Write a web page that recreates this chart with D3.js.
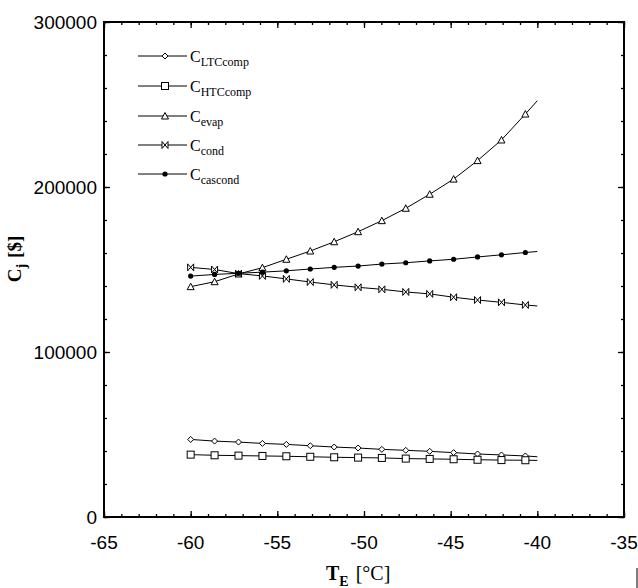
<!DOCTYPE html>
<html><head><meta charset="utf-8">
<script src="https://cdn.jsdelivr.net/npm/d3@7/dist/d3.min.js"></script>
<style>body{margin:0;background:#fff}svg{display:block}</style>
</head><body>
<svg id="c" width="638" height="588"></svg>
<script>
// marker temperatures (°C); last entry = line end without marker
const temps = [-60, -58.62, -57.24, -55.86, -54.48, -53.10, -51.72, -50.34, -48.97, -47.59, -46.21, -44.83, -43.45, -42.07, -40.69, -40];
const cLTCcomp = [47000, 46000, 45400, 44600, 44000, 43200, 42400, 41800, 41000, 40400, 39800, 39000, 38200, 37600, 37000, 36500];
const cHTCcomp = [37800, 37400, 37200, 37000, 36800, 36500, 36200, 36000, 35800, 35400, 35200, 35000, 34700, 34500, 34400, 34300];
const cEvap    = [139600, 142600, 147300, 151100, 156200, 161200, 166800, 172900, 179600, 187100, 195600, 204800, 216000, 228500, 244200, 252300];
const cCond    = [151300, 150000, 147500, 146100, 144300, 142400, 140700, 139200, 138000, 136400, 135200, 133200, 131500, 130100, 128500, 127900];
const cCascond = [146000, 147000, 147700, 148400, 149200, 150300, 151300, 152100, 153300, 154100, 155200, 156200, 157600, 158900, 160300, 160900];
const seriesNames = ["LTCcomp", "HTCcomp", "evap", "cond", "cascond"];
const seriesValues = [cLTCcomp, cHTCcomp, cEvap, cCond, cCascond];
const seriesMarkers = ["diamond", "square", "triangle", "bowtie", "dot"];
const xTicks = [-65, -60, -55, -50, -45, -40, -35];
const yTicks = [0, 100000, 200000, 300000];

const svg = d3.select("#c");
const L = 104, R = 624, T = 22, B = 517;
const x = d3.scaleLinear().domain([-65, -35]).range([L, R]);
const y = d3.scaleLinear().domain([0, 300000]).range([B, T]);

const sans = "'Liberation Sans', Arial, sans-serif";
const serif = "'Liberation Serif', 'Times New Roman', serif";

function tickAxis(gen, tr) {
  const g = svg.append("g").attr("transform", tr).call(gen);
  g.selectAll("text").remove();
  g.select(".domain").remove();
  g.selectAll("line").attr("stroke", "#000").attr("stroke-width", 1.3);
  return g;
}
const xMinor = d3.range(-65, -34, 1);
const yMinor = d3.range(0, 300001, 20000);
tickAxis(d3.axisBottom(x).tickValues(xMinor).tickSize(-3), `translate(0,${B})`);
tickAxis(d3.axisBottom(x).tickValues(xTicks).tickSize(-6), `translate(0,${B})`);
tickAxis(d3.axisTop(x).tickValues(xMinor).tickSize(-3), `translate(0,${T})`);
tickAxis(d3.axisTop(x).tickValues(xTicks).tickSize(-6), `translate(0,${T})`);
tickAxis(d3.axisLeft(y).tickValues(yMinor).tickSize(-3), `translate(${L},0)`);
tickAxis(d3.axisLeft(y).tickValues(yTicks).tickSize(-6), `translate(${L},0)`);
tickAxis(d3.axisRight(y).tickValues(yMinor).tickSize(-3), `translate(${R},0)`);
tickAxis(d3.axisRight(y).tickValues(yTicks).tickSize(-6), `translate(${R},0)`);

svg.append("rect").attr("x", L).attr("y", T).attr("width", R - L).attr("height", B - T)
  .attr("fill", "none").attr("stroke", "#000").attr("stroke-width", 2);

svg.append("g").selectAll("text").data(xTicks).join("text")
  .attr("x", d => x(d)).attr("y", 549).attr("text-anchor", "middle")
  .attr("font-family", sans).attr("font-size", 19).text(d => d);
svg.append("g").selectAll("text").data(yTicks).join("text")
  .attr("x", 97).attr("y", d => y(d) + 7).attr("text-anchor", "end")
  .attr("font-family", sans).attr("font-size", 19).text(d => d);

const xt = svg.append("text").attr("x", 326).attr("y", 580).attr("font-family", serif).attr("font-size", 20);
xt.append("tspan").attr("font-weight", "bold").text("T");
xt.append("tspan").attr("font-weight", "bold").attr("font-size", 14).attr("dy", 6).text("E");
xt.append("tspan").attr("dy", -6).attr("dx", 7).text("[°C]");

const yt = svg.append("text").attr("transform", "translate(21,259) rotate(-90)")
  .attr("text-anchor", "middle").attr("font-family", serif).attr("font-size", 19).attr("font-weight", "bold");
yt.append("tspan").text("C");
yt.append("tspan").attr("font-size", 14).attr("dy", 5).text("j");
yt.append("tspan").attr("dy", -5).attr("dx", 6).text("[$]");

function marker(g, type) {
  if (type === "diamond") g.append("path").attr("d", "M0,-3L3,0L0,3L-3,0Z").attr("fill", "#fff").attr("stroke", "#000");
  else if (type === "square") g.append("rect").attr("x", -3.5).attr("y", -3.5).attr("width", 7).attr("height", 7).attr("fill", "#fff").attr("stroke", "#000");
  else if (type === "triangle") g.append("path").attr("d", "M0,-3.5L3.5,3L-3.5,3Z").attr("fill", "#fff").attr("stroke", "#000");
  else if (type === "bowtie") g.append("path").attr("d", "M-3,-3.5L3,3.5L3,-3.5L-3,3.5Z").attr("fill", "#fff").attr("stroke", "#000");
  else g.append("circle").attr("r", 2.6).attr("fill", "#000");
}

const line = d3.line().x(d => x(d[0])).y(d => y(d[1]));
seriesValues.forEach((vals, i) => {
  const pts = temps.map((t, j) => [t, vals[j]]);
  svg.append("path").attr("d", line(pts)).attr("fill", "none").attr("stroke", "#000").attr("stroke-width", 1);
  pts.slice(0, pts.length - 1).forEach(p => {
    marker(svg.append("g").attr("transform", `translate(${x(p[0])},${y(p[1])})`), seriesMarkers[i]);
  });
});

const legY = [56, 86, 116, 145, 174];
seriesNames.forEach((n, i) => {
  const g = svg.append("g");
  g.append("line").attr("x1", 138).attr("x2", 187).attr("y1", legY[i]).attr("y2", legY[i]).attr("stroke", "#000");
  marker(g.append("g").attr("transform", `translate(165,${legY[i]})`), seriesMarkers[i]);
  const t = g.append("text").attr("x", 190).attr("y", legY[i] + 6).attr("font-family", serif).attr("font-size", 16);
  t.append("tspan").text("C");
  t.append("tspan").attr("font-size", 12).attr("dy", 4).text(n);
});

svg.append("line").attr("x1", 637).attr("x2", 637).attr("y1", 568).attr("y2", 588).attr("stroke", "#000").attr("stroke-width", 1);
</script>
</body></html>
